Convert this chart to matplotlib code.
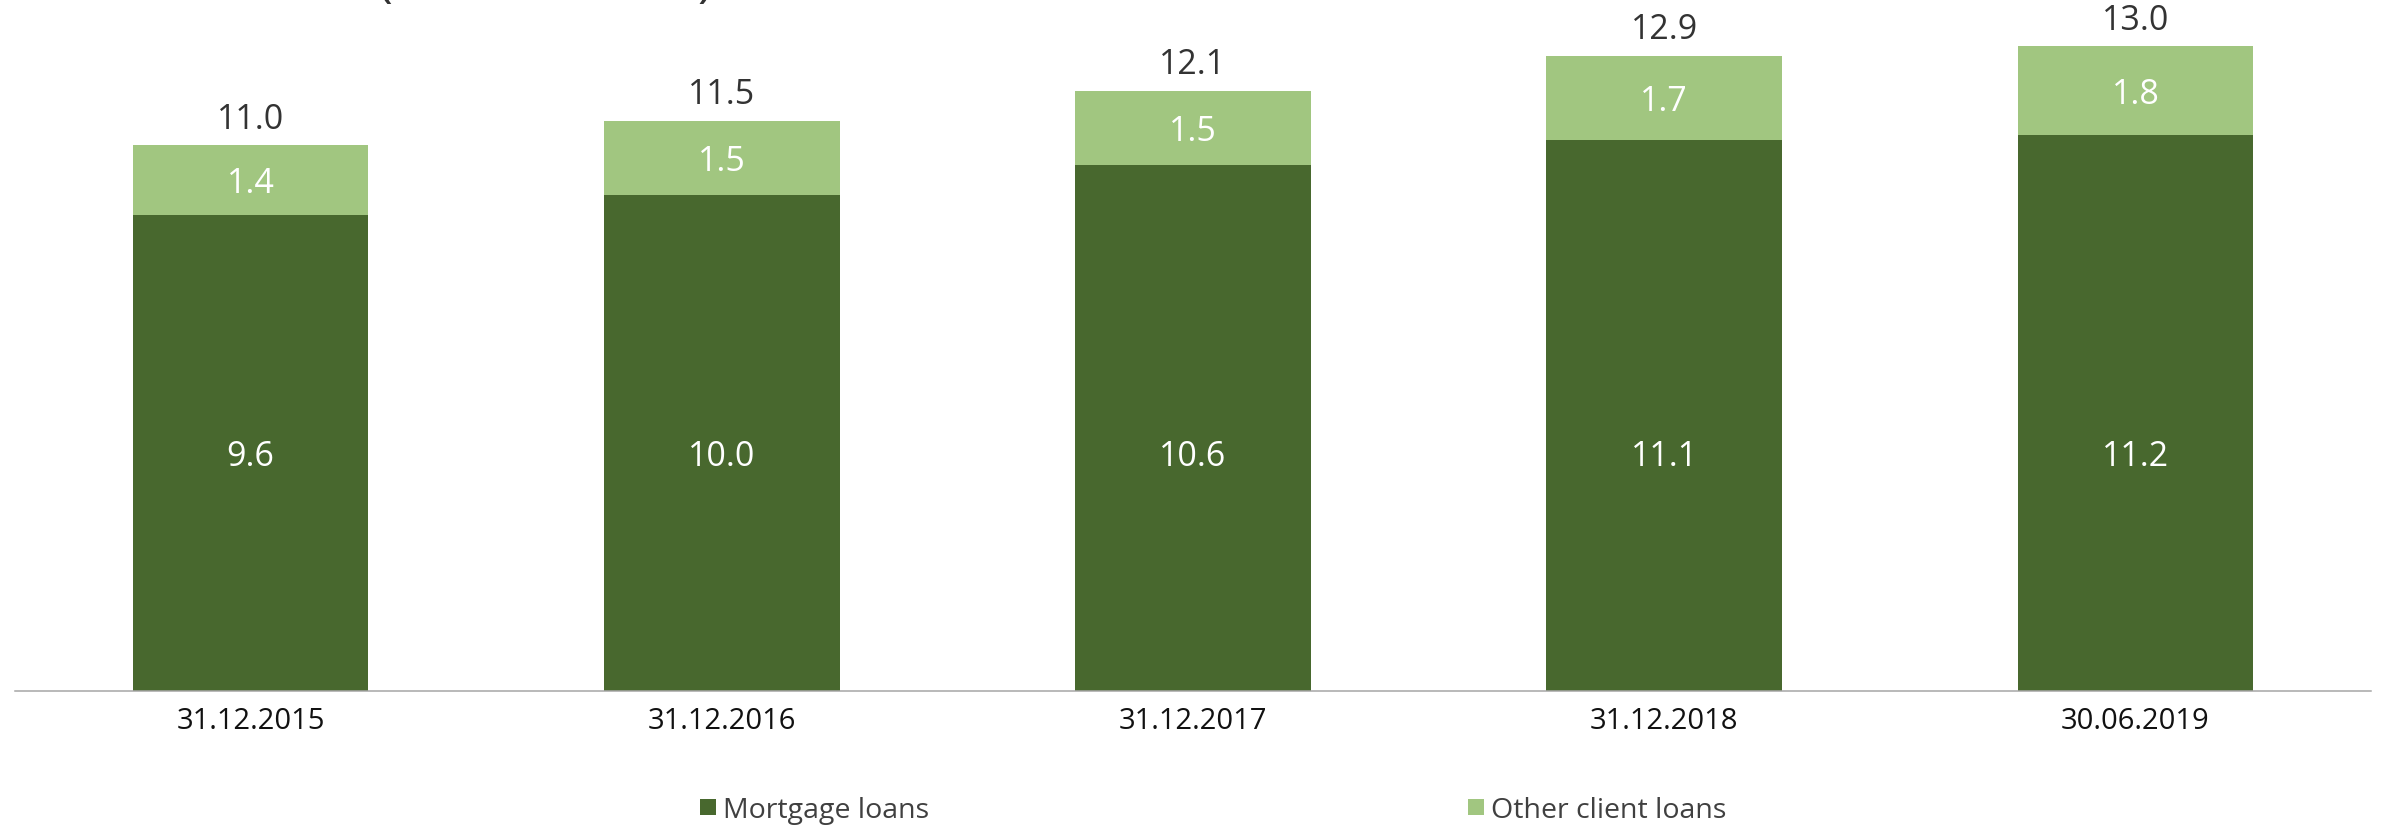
import matplotlib
matplotlib.use("Agg")
import matplotlib.pyplot as plt
from matplotlib.patches import Patch
import numpy as np

plt.rcParams['font.family'] = ['Open Sans', 'DejaVu Sans']

# Data (CHF billion)
dates = ["31.12.2015", "31.12.2016", "31.12.2017", "31.12.2018", "30.06.2019"]
mortgage_loans = [9.6, 10.0, 10.6, 11.1, 11.2]
other_client_loans = [1.4, 1.5, 1.5, 1.7, 1.8]
total_labels = ["11.0", "11.5", "12.1", "12.9", "13.0"]
series_names = ["Mortgage loans", "Other client loans"]

DARK = "#48682E"
LIGHT = "#A1C680"
TEXT = "#333333"

W, H, DPI = 2386, 828, 100
fig = plt.figure(figsize=(W / DPI, H / DPI), dpi=DPI)

ax_left, ax_right = 15 / W, 2371 / W
ax_bottom = 1 - 692 / H
ax = fig.add_axes([ax_left, ax_bottom, ax_right - ax_left, 1 - ax_bottom])

x = np.arange(len(dates))
mort = np.array(mortgage_loans)
other = np.array(other_client_loans)

ax.bar(x, mort, width=0.5, color=DARK, zorder=2)
ax.bar(x, other, width=0.5, bottom=mort, color=LIGHT, zorder=2)

ax.set_xlim(-0.5, len(dates) - 0.5)
ax.set_ylim(0, 692 / 49.6)

label_pt = 24.5
cap_pt = label_pt * 0.714

# Mortgage labels sit on a common line at mid-height of the shortest bar
mort_label_y = mort.min() / 2
for xi, m, o in zip(x, mort, other):
    ax.annotate(f"{m:.1f}", (xi, mort_label_y), xytext=(0, -cap_pt / 2), textcoords="offset points",
                ha="center", va="baseline", color="white", fontsize=label_pt)
    ax.annotate(f"{o:.1f}", (xi, m + o / 2), xytext=(0, -cap_pt / 2), textcoords="offset points",
                ha="center", va="baseline", color="white", fontsize=label_pt)

# Totals above the stacks
for xi, top, lab in zip(x, mort + other, total_labels):
    ax.annotate(lab, (xi, top), xytext=(0, 12.7), textcoords="offset points",
                ha="center", va="baseline", color=TEXT, fontsize=label_pt, annotation_clip=False)

for s in ["top", "right", "left"]:
    ax.spines[s].set_visible(False)
ax.spines["bottom"].set_color("#A6A6A6")
ax.spines["bottom"].set_linewidth(1.1)
ax.set_yticks([])
ax.set_xticks(x)
ax.set_xticklabels(dates, fontsize=21, color="#111111")
ax.tick_params(axis="x", length=0, pad=11)

handles = [Patch(facecolor=DARK, edgecolor="none"), Patch(facecolor=LIGHT, edgecolor="none")]
fig.legend(handles, series_names, loc="center", bbox_to_anchor=(0.5085, 0.0205), ncol=2,
           frameon=False, fontsize=20.5, handlelength=0.57, handleheight=0.53,
           handletextpad=0.25, columnspacing=18.9, borderpad=0, labelcolor="#404040")

# Chart title, mostly outside the canvas at the top edge
fig.text(545 / W, 1 + 4 / H, "(in CHF billion)", ha="center", va="baseline",
         fontsize=36, color=TEXT)

fig.savefig("out.png", dpi=DPI)
